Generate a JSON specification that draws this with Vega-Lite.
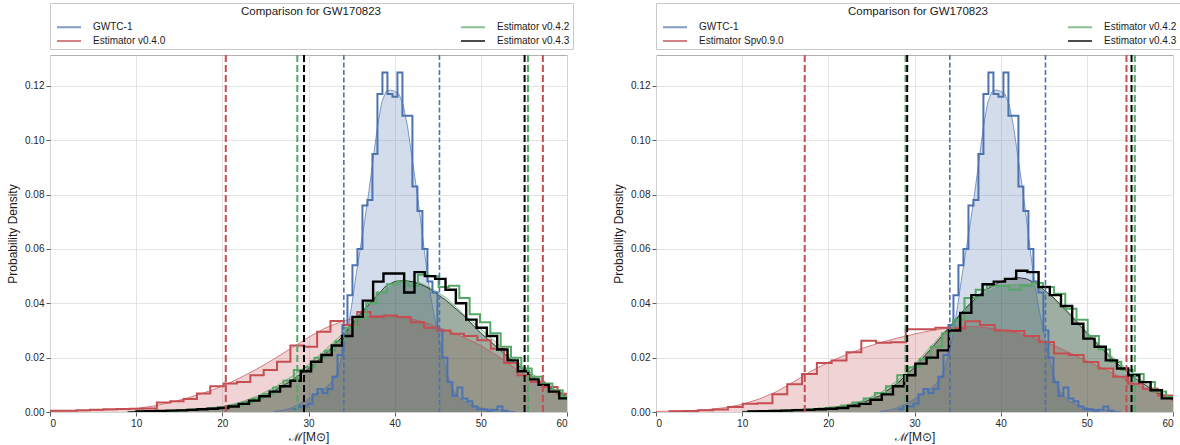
{
"$schema":"https://vega.github.io/schema/vega-lite/v6.json",
"padding":{"left":6,"right":0,"top":2,"bottom":1},
"background":"white",
"datasets":{
"bounds":[
{"p":"all","s":"GWTC-1","x":34.1},{"p":"all","s":"GWTC-1","x":45.2},
{"p":"A","s":"Estimator v0.4.0","x":20.4},{"p":"A","s":"Estimator v0.4.0","x":57.2},
{"p":"A","s":"Estimator v0.4.2","x":28.7},{"p":"A","s":"Estimator v0.4.2","x":55.47},
{"p":"A","s":"Estimator v0.4.3","x":29.48},{"p":"A","s":"Estimator v0.4.3","x":55.08},
{"p":"B","s":"Estimator Spv0.9.0","x":17.26},{"p":"B","s":"Estimator Spv0.9.0","x":54.6},
{"p":"B","s":"Estimator v0.4.2","x":28.96},{"p":"B","s":"Estimator v0.4.2","x":55.57},
{"p":"B","s":"Estimator v0.4.3","x":29.15},{"p":"B","s":"Estimator v0.4.3","x":55.19}
],
"hist":[
{"p":"all","s":"GWTC-1","x":28.14,"y":0.001},{"p":"all","s":"GWTC-1","x":28.72,"y":0.002},{"p":"all","s":"GWTC-1","x":29.3,"y":0.002},{"p":"all","s":"GWTC-1","x":29.88,"y":0.003},{"p":"all","s":"GWTC-1","x":30.46,"y":0.0065},{"p":"all","s":"GWTC-1","x":31.04,"y":0.0085},{"p":"all","s":"GWTC-1","x":31.62,"y":0.007},{"p":"all","s":"GWTC-1","x":32.2,"y":0.0085},{"p":"all","s":"GWTC-1","x":32.78,"y":0.013},{"p":"all","s":"GWTC-1","x":33.36,"y":0.021},{"p":"all","s":"GWTC-1","x":33.94,"y":0.032},{"p":"all","s":"GWTC-1","x":34.52,"y":0.043},{"p":"all","s":"GWTC-1","x":35.1,"y":0.054},{"p":"all","s":"GWTC-1","x":35.68,"y":0.06},{"p":"all","s":"GWTC-1","x":36.26,"y":0.076},{"p":"all","s":"GWTC-1","x":36.84,"y":0.078},{"p":"all","s":"GWTC-1","x":37.42,"y":0.095},{"p":"all","s":"GWTC-1","x":38.0,"y":0.117},{"p":"all","s":"GWTC-1","x":38.58,"y":0.125},{"p":"all","s":"GWTC-1","x":39.16,"y":0.117},{"p":"all","s":"GWTC-1","x":39.74,"y":0.116},{"p":"all","s":"GWTC-1","x":40.32,"y":0.125},{"p":"all","s":"GWTC-1","x":40.9,"y":0.109},{"p":"all","s":"GWTC-1","x":41.48,"y":0.109},{"p":"all","s":"GWTC-1","x":42.06,"y":0.083},{"p":"all","s":"GWTC-1","x":42.64,"y":0.074},{"p":"all","s":"GWTC-1","x":43.22,"y":0.06},{"p":"all","s":"GWTC-1","x":43.8,"y":0.048},{"p":"all","s":"GWTC-1","x":44.38,"y":0.044},{"p":"all","s":"GWTC-1","x":44.96,"y":0.03},{"p":"all","s":"GWTC-1","x":45.54,"y":0.02},{"p":"all","s":"GWTC-1","x":46.12,"y":0.011},{"p":"all","s":"GWTC-1","x":46.7,"y":0.006},{"p":"all","s":"GWTC-1","x":47.28,"y":0.009},{"p":"all","s":"GWTC-1","x":47.86,"y":0.005},{"p":"all","s":"GWTC-1","x":48.44,"y":0.004},{"p":"all","s":"GWTC-1","x":49.02,"y":0.002},{"p":"all","s":"GWTC-1","x":49.6,"y":0.001},{"p":"all","s":"GWTC-1","x":50.18,"y":0.0008},{"p":"all","s":"GWTC-1","x":50.76,"y":0.0005},{"p":"all","s":"GWTC-1","x":51.34,"y":0.0008},{"p":"all","s":"GWTC-1","x":51.92,"y":0.002},{"p":"all","s":"GWTC-1","x":52.5,"y":0.0005},{"p":"all","s":"GWTC-1","x":53.08,"y":0},
{"p":"A","s":"Estimator v0.4.0","x":0,"y":0.0005},{"p":"A","s":"Estimator v0.4.0","x":1.55,"y":0.0005},{"p":"A","s":"Estimator v0.4.0","x":3.1,"y":0.0006},{"p":"A","s":"Estimator v0.4.0","x":4.65,"y":0.0008},{"p":"A","s":"Estimator v0.4.0","x":6.2,"y":0.001},{"p":"A","s":"Estimator v0.4.0","x":7.75,"y":0.0011},{"p":"A","s":"Estimator v0.4.0","x":9.3,"y":0.0012},{"p":"A","s":"Estimator v0.4.0","x":10.85,"y":0.0013},{"p":"A","s":"Estimator v0.4.0","x":12.4,"y":0.0035},{"p":"A","s":"Estimator v0.4.0","x":13.95,"y":0.004},{"p":"A","s":"Estimator v0.4.0","x":15.5,"y":0.0048},{"p":"A","s":"Estimator v0.4.0","x":17.05,"y":0.0068},{"p":"A","s":"Estimator v0.4.0","x":18.6,"y":0.0095},{"p":"A","s":"Estimator v0.4.0","x":20.15,"y":0.0105},{"p":"A","s":"Estimator v0.4.0","x":21.7,"y":0.011},{"p":"A","s":"Estimator v0.4.0","x":23.25,"y":0.0135},{"p":"A","s":"Estimator v0.4.0","x":24.8,"y":0.0155},{"p":"A","s":"Estimator v0.4.0","x":26.35,"y":0.0185},{"p":"A","s":"Estimator v0.4.0","x":27.9,"y":0.0245},{"p":"A","s":"Estimator v0.4.0","x":29.45,"y":0.024},{"p":"A","s":"Estimator v0.4.0","x":31.0,"y":0.0295},{"p":"A","s":"Estimator v0.4.0","x":32.55,"y":0.0335},{"p":"A","s":"Estimator v0.4.0","x":34.1,"y":0.032},{"p":"A","s":"Estimator v0.4.0","x":35.65,"y":0.0368},{"p":"A","s":"Estimator v0.4.0","x":37.2,"y":0.035},{"p":"A","s":"Estimator v0.4.0","x":38.75,"y":0.0355},{"p":"A","s":"Estimator v0.4.0","x":40.3,"y":0.035},{"p":"A","s":"Estimator v0.4.0","x":41.85,"y":0.033},{"p":"A","s":"Estimator v0.4.0","x":43.4,"y":0.031},{"p":"A","s":"Estimator v0.4.0","x":44.95,"y":0.03},{"p":"A","s":"Estimator v0.4.0","x":46.5,"y":0.0288},{"p":"A","s":"Estimator v0.4.0","x":48.05,"y":0.028},{"p":"A","s":"Estimator v0.4.0","x":49.6,"y":0.0264},{"p":"A","s":"Estimator v0.4.0","x":51.15,"y":0.0233},{"p":"A","s":"Estimator v0.4.0","x":52.7,"y":0.018},{"p":"A","s":"Estimator v0.4.0","x":54.25,"y":0.0135},{"p":"A","s":"Estimator v0.4.0","x":55.8,"y":0.011},{"p":"A","s":"Estimator v0.4.0","x":57.35,"y":0.0092},{"p":"A","s":"Estimator v0.4.0","x":58.9,"y":0.0067},{"p":"A","s":"Estimator v0.4.0","x":60,"y":0.0067},
{"p":"A","s":"Estimator v0.4.2","x":10.3,"y":0.0002},{"p":"A","s":"Estimator v0.4.2","x":11.5,"y":0.0003},{"p":"A","s":"Estimator v0.4.2","x":12.7,"y":0.0004},{"p":"A","s":"Estimator v0.4.2","x":13.9,"y":0.0005},{"p":"A","s":"Estimator v0.4.2","x":15.1,"y":0.0007},{"p":"A","s":"Estimator v0.4.2","x":16.3,"y":0.0009},{"p":"A","s":"Estimator v0.4.2","x":17.5,"y":0.0011},{"p":"A","s":"Estimator v0.4.2","x":18.7,"y":0.0014},{"p":"A","s":"Estimator v0.4.2","x":19.9,"y":0.0018},{"p":"A","s":"Estimator v0.4.2","x":21.1,"y":0.0025},{"p":"A","s":"Estimator v0.4.2","x":22.3,"y":0.0035},{"p":"A","s":"Estimator v0.4.2","x":23.5,"y":0.005},{"p":"A","s":"Estimator v0.4.2","x":24.7,"y":0.0065},{"p":"A","s":"Estimator v0.4.2","x":25.9,"y":0.009},{"p":"A","s":"Estimator v0.4.2","x":27.1,"y":0.0115},{"p":"A","s":"Estimator v0.4.2","x":28.3,"y":0.0155},{"p":"A","s":"Estimator v0.4.2","x":29.5,"y":0.0165},{"p":"A","s":"Estimator v0.4.2","x":30.7,"y":0.02},{"p":"A","s":"Estimator v0.4.2","x":31.9,"y":0.0225},{"p":"A","s":"Estimator v0.4.2","x":33.1,"y":0.026},{"p":"A","s":"Estimator v0.4.2","x":34.3,"y":0.031},{"p":"A","s":"Estimator v0.4.2","x":35.5,"y":0.0345},{"p":"A","s":"Estimator v0.4.2","x":36.7,"y":0.04},{"p":"A","s":"Estimator v0.4.2","x":37.9,"y":0.044},{"p":"A","s":"Estimator v0.4.2","x":39.1,"y":0.047},{"p":"A","s":"Estimator v0.4.2","x":40.3,"y":0.048},{"p":"A","s":"Estimator v0.4.2","x":41.5,"y":0.0465},{"p":"A","s":"Estimator v0.4.2","x":42.7,"y":0.0505},{"p":"A","s":"Estimator v0.4.2","x":43.9,"y":0.05},{"p":"A","s":"Estimator v0.4.2","x":45.1,"y":0.046},{"p":"A","s":"Estimator v0.4.2","x":46.3,"y":0.0465},{"p":"A","s":"Estimator v0.4.2","x":47.5,"y":0.042},{"p":"A","s":"Estimator v0.4.2","x":48.7,"y":0.036},{"p":"A","s":"Estimator v0.4.2","x":49.9,"y":0.033},{"p":"A","s":"Estimator v0.4.2","x":51.1,"y":0.029},{"p":"A","s":"Estimator v0.4.2","x":52.3,"y":0.024},{"p":"A","s":"Estimator v0.4.2","x":53.5,"y":0.02},{"p":"A","s":"Estimator v0.4.2","x":54.7,"y":0.016},{"p":"A","s":"Estimator v0.4.2","x":55.9,"y":0.013},{"p":"A","s":"Estimator v0.4.2","x":57.1,"y":0.0105},{"p":"A","s":"Estimator v0.4.2","x":58.3,"y":0.008},{"p":"A","s":"Estimator v0.4.2","x":59.5,"y":0.0055},{"p":"A","s":"Estimator v0.4.2","x":60,"y":0.0055},
{"p":"A","s":"Estimator v0.4.3","x":9.9,"y":0.0002},{"p":"A","s":"Estimator v0.4.3","x":11.1,"y":0.0003},{"p":"A","s":"Estimator v0.4.3","x":12.3,"y":0.0004},{"p":"A","s":"Estimator v0.4.3","x":13.5,"y":0.0005},{"p":"A","s":"Estimator v0.4.3","x":14.7,"y":0.0006},{"p":"A","s":"Estimator v0.4.3","x":15.9,"y":0.0008},{"p":"A","s":"Estimator v0.4.3","x":17.1,"y":0.001},{"p":"A","s":"Estimator v0.4.3","x":18.3,"y":0.0012},{"p":"A","s":"Estimator v0.4.3","x":19.5,"y":0.0015},{"p":"A","s":"Estimator v0.4.3","x":20.7,"y":0.002},{"p":"A","s":"Estimator v0.4.3","x":21.9,"y":0.003},{"p":"A","s":"Estimator v0.4.3","x":23.1,"y":0.0042},{"p":"A","s":"Estimator v0.4.3","x":24.3,"y":0.0058},{"p":"A","s":"Estimator v0.4.3","x":25.5,"y":0.0075},{"p":"A","s":"Estimator v0.4.3","x":26.7,"y":0.0095},{"p":"A","s":"Estimator v0.4.3","x":27.9,"y":0.0115},{"p":"A","s":"Estimator v0.4.3","x":29.1,"y":0.015},{"p":"A","s":"Estimator v0.4.3","x":30.3,"y":0.0185},{"p":"A","s":"Estimator v0.4.3","x":31.5,"y":0.021},{"p":"A","s":"Estimator v0.4.3","x":32.7,"y":0.0245},{"p":"A","s":"Estimator v0.4.3","x":33.9,"y":0.028},{"p":"A","s":"Estimator v0.4.3","x":35.1,"y":0.035},{"p":"A","s":"Estimator v0.4.3","x":36.3,"y":0.041},{"p":"A","s":"Estimator v0.4.3","x":37.5,"y":0.048},{"p":"A","s":"Estimator v0.4.3","x":38.7,"y":0.051},{"p":"A","s":"Estimator v0.4.3","x":39.9,"y":0.051},{"p":"A","s":"Estimator v0.4.3","x":41.1,"y":0.044},{"p":"A","s":"Estimator v0.4.3","x":42.3,"y":0.0515},{"p":"A","s":"Estimator v0.4.3","x":43.5,"y":0.05},{"p":"A","s":"Estimator v0.4.3","x":44.7,"y":0.049},{"p":"A","s":"Estimator v0.4.3","x":45.9,"y":0.045},{"p":"A","s":"Estimator v0.4.3","x":47.1,"y":0.04},{"p":"A","s":"Estimator v0.4.3","x":48.3,"y":0.034},{"p":"A","s":"Estimator v0.4.3","x":49.5,"y":0.031},{"p":"A","s":"Estimator v0.4.3","x":50.7,"y":0.028},{"p":"A","s":"Estimator v0.4.3","x":51.9,"y":0.023},{"p":"A","s":"Estimator v0.4.3","x":53.1,"y":0.019},{"p":"A","s":"Estimator v0.4.3","x":54.3,"y":0.015},{"p":"A","s":"Estimator v0.4.3","x":55.5,"y":0.012},{"p":"A","s":"Estimator v0.4.3","x":56.7,"y":0.01},{"p":"A","s":"Estimator v0.4.3","x":57.9,"y":0.0075},{"p":"A","s":"Estimator v0.4.3","x":59.1,"y":0.005},{"p":"A","s":"Estimator v0.4.3","x":60,"y":0.005},
{"p":"B","s":"Estimator Spv0.9.0","x":1.47,"y":0.0003},{"p":"B","s":"Estimator Spv0.9.0","x":3.19,"y":0.0004},{"p":"B","s":"Estimator Spv0.9.0","x":4.91,"y":0.0006},{"p":"B","s":"Estimator Spv0.9.0","x":6.63,"y":0.0009},{"p":"B","s":"Estimator Spv0.9.0","x":8.35,"y":0.0018},{"p":"B","s":"Estimator Spv0.9.0","x":10.07,"y":0.003},{"p":"B","s":"Estimator Spv0.9.0","x":11.79,"y":0.0032},{"p":"B","s":"Estimator Spv0.9.0","x":13.51,"y":0.0065},{"p":"B","s":"Estimator Spv0.9.0","x":15.23,"y":0.0102},{"p":"B","s":"Estimator Spv0.9.0","x":16.95,"y":0.014},{"p":"B","s":"Estimator Spv0.9.0","x":18.67,"y":0.018},{"p":"B","s":"Estimator Spv0.9.0","x":20.39,"y":0.019},{"p":"B","s":"Estimator Spv0.9.0","x":22.11,"y":0.022},{"p":"B","s":"Estimator Spv0.9.0","x":23.83,"y":0.0262},{"p":"B","s":"Estimator Spv0.9.0","x":25.55,"y":0.0255},{"p":"B","s":"Estimator Spv0.9.0","x":27.27,"y":0.0257},{"p":"B","s":"Estimator Spv0.9.0","x":28.99,"y":0.0305},{"p":"B","s":"Estimator Spv0.9.0","x":30.71,"y":0.0305},{"p":"B","s":"Estimator Spv0.9.0","x":32.43,"y":0.031},{"p":"B","s":"Estimator Spv0.9.0","x":34.15,"y":0.0307},{"p":"B","s":"Estimator Spv0.9.0","x":35.87,"y":0.0334},{"p":"B","s":"Estimator Spv0.9.0","x":37.59,"y":0.032},{"p":"B","s":"Estimator Spv0.9.0","x":39.31,"y":0.03},{"p":"B","s":"Estimator Spv0.9.0","x":41.03,"y":0.0298},{"p":"B","s":"Estimator Spv0.9.0","x":42.75,"y":0.028},{"p":"B","s":"Estimator Spv0.9.0","x":44.47,"y":0.0258},{"p":"B","s":"Estimator Spv0.9.0","x":46.19,"y":0.0215},{"p":"B","s":"Estimator Spv0.9.0","x":47.91,"y":0.021},{"p":"B","s":"Estimator Spv0.9.0","x":49.63,"y":0.0184},{"p":"B","s":"Estimator Spv0.9.0","x":51.35,"y":0.016},{"p":"B","s":"Estimator Spv0.9.0","x":53.07,"y":0.013},{"p":"B","s":"Estimator Spv0.9.0","x":54.79,"y":0.0104},{"p":"B","s":"Estimator Spv0.9.0","x":56.51,"y":0.0086},{"p":"B","s":"Estimator Spv0.9.0","x":58.23,"y":0.0061},{"p":"B","s":"Estimator Spv0.9.0","x":59.95,"y":0.0043},{"p":"B","s":"Estimator Spv0.9.0","x":60,"y":0.0043},
{"p":"B","s":"Estimator v0.4.2","x":11.1,"y":0.0003},{"p":"B","s":"Estimator v0.4.2","x":12.4,"y":0.0004},{"p":"B","s":"Estimator v0.4.2","x":13.7,"y":0.0005},{"p":"B","s":"Estimator v0.4.2","x":15.0,"y":0.0006},{"p":"B","s":"Estimator v0.4.2","x":16.3,"y":0.0008},{"p":"B","s":"Estimator v0.4.2","x":17.6,"y":0.001},{"p":"B","s":"Estimator v0.4.2","x":18.9,"y":0.0013},{"p":"B","s":"Estimator v0.4.2","x":20.2,"y":0.0017},{"p":"B","s":"Estimator v0.4.2","x":21.5,"y":0.0024},{"p":"B","s":"Estimator v0.4.2","x":22.8,"y":0.0035},{"p":"B","s":"Estimator v0.4.2","x":24.1,"y":0.005},{"p":"B","s":"Estimator v0.4.2","x":25.4,"y":0.007},{"p":"B","s":"Estimator v0.4.2","x":26.7,"y":0.0095},{"p":"B","s":"Estimator v0.4.2","x":28.0,"y":0.0135},{"p":"B","s":"Estimator v0.4.2","x":29.3,"y":0.0165},{"p":"B","s":"Estimator v0.4.2","x":30.6,"y":0.0195},{"p":"B","s":"Estimator v0.4.2","x":31.9,"y":0.024},{"p":"B","s":"Estimator v0.4.2","x":33.2,"y":0.029},{"p":"B","s":"Estimator v0.4.2","x":34.5,"y":0.034},{"p":"B","s":"Estimator v0.4.2","x":35.8,"y":0.042},{"p":"B","s":"Estimator v0.4.2","x":37.1,"y":0.045},{"p":"B","s":"Estimator v0.4.2","x":38.4,"y":0.0465},{"p":"B","s":"Estimator v0.4.2","x":39.7,"y":0.0465},{"p":"B","s":"Estimator v0.4.2","x":41.0,"y":0.045},{"p":"B","s":"Estimator v0.4.2","x":42.3,"y":0.0465},{"p":"B","s":"Estimator v0.4.2","x":43.6,"y":0.0475},{"p":"B","s":"Estimator v0.4.2","x":44.9,"y":0.046},{"p":"B","s":"Estimator v0.4.2","x":46.2,"y":0.0435},{"p":"B","s":"Estimator v0.4.2","x":47.5,"y":0.038},{"p":"B","s":"Estimator v0.4.2","x":48.8,"y":0.034},{"p":"B","s":"Estimator v0.4.2","x":50.1,"y":0.028},{"p":"B","s":"Estimator v0.4.2","x":51.4,"y":0.023},{"p":"B","s":"Estimator v0.4.2","x":52.7,"y":0.0185},{"p":"B","s":"Estimator v0.4.2","x":54.0,"y":0.0155},{"p":"B","s":"Estimator v0.4.2","x":55.3,"y":0.014},{"p":"B","s":"Estimator v0.4.2","x":56.6,"y":0.011},{"p":"B","s":"Estimator v0.4.2","x":57.9,"y":0.0075},{"p":"B","s":"Estimator v0.4.2","x":59.2,"y":0.0055},{"p":"B","s":"Estimator v0.4.2","x":60,"y":0.0055},
{"p":"B","s":"Estimator v0.4.3","x":10.6,"y":0.0002},{"p":"B","s":"Estimator v0.4.3","x":11.9,"y":0.0003},{"p":"B","s":"Estimator v0.4.3","x":13.2,"y":0.0004},{"p":"B","s":"Estimator v0.4.3","x":14.5,"y":0.0005},{"p":"B","s":"Estimator v0.4.3","x":15.8,"y":0.0007},{"p":"B","s":"Estimator v0.4.3","x":17.1,"y":0.0008},{"p":"B","s":"Estimator v0.4.3","x":18.4,"y":0.001},{"p":"B","s":"Estimator v0.4.3","x":19.7,"y":0.0012},{"p":"B","s":"Estimator v0.4.3","x":21.0,"y":0.0015},{"p":"B","s":"Estimator v0.4.3","x":22.3,"y":0.0022},{"p":"B","s":"Estimator v0.4.3","x":23.6,"y":0.003},{"p":"B","s":"Estimator v0.4.3","x":24.9,"y":0.0045},{"p":"B","s":"Estimator v0.4.3","x":26.2,"y":0.0065},{"p":"B","s":"Estimator v0.4.3","x":27.5,"y":0.0095},{"p":"B","s":"Estimator v0.4.3","x":28.8,"y":0.0135},{"p":"B","s":"Estimator v0.4.3","x":30.1,"y":0.0178},{"p":"B","s":"Estimator v0.4.3","x":31.4,"y":0.02},{"p":"B","s":"Estimator v0.4.3","x":32.7,"y":0.0227},{"p":"B","s":"Estimator v0.4.3","x":34.0,"y":0.03},{"p":"B","s":"Estimator v0.4.3","x":35.3,"y":0.0365},{"p":"B","s":"Estimator v0.4.3","x":36.6,"y":0.043},{"p":"B","s":"Estimator v0.4.3","x":37.9,"y":0.047},{"p":"B","s":"Estimator v0.4.3","x":39.2,"y":0.048},{"p":"B","s":"Estimator v0.4.3","x":40.5,"y":0.049},{"p":"B","s":"Estimator v0.4.3","x":41.8,"y":0.052},{"p":"B","s":"Estimator v0.4.3","x":43.1,"y":0.0515},{"p":"B","s":"Estimator v0.4.3","x":44.4,"y":0.046},{"p":"B","s":"Estimator v0.4.3","x":45.7,"y":0.043},{"p":"B","s":"Estimator v0.4.3","x":47.0,"y":0.039},{"p":"B","s":"Estimator v0.4.3","x":48.3,"y":0.0325},{"p":"B","s":"Estimator v0.4.3","x":49.6,"y":0.027},{"p":"B","s":"Estimator v0.4.3","x":50.9,"y":0.024},{"p":"B","s":"Estimator v0.4.3","x":52.2,"y":0.019},{"p":"B","s":"Estimator v0.4.3","x":53.5,"y":0.016},{"p":"B","s":"Estimator v0.4.3","x":54.8,"y":0.0135},{"p":"B","s":"Estimator v0.4.3","x":56.1,"y":0.011},{"p":"B","s":"Estimator v0.4.3","x":57.4,"y":0.008},{"p":"B","s":"Estimator v0.4.3","x":58.7,"y":0.005},{"p":"B","s":"Estimator v0.4.3","x":60,"y":0.005}
],
"kde":[
{"p":"all","s":"GWTC-1","x":26,"y":0.0002},{"p":"all","s":"GWTC-1","x":27,"y":0.0006},{"p":"all","s":"GWTC-1","x":28,"y":0.0015},{"p":"all","s":"GWTC-1","x":29,"y":0.003},{"p":"all","s":"GWTC-1","x":30,"y":0.0048},{"p":"all","s":"GWTC-1","x":31,"y":0.0068},{"p":"all","s":"GWTC-1","x":32,"y":0.009},{"p":"all","s":"GWTC-1","x":33,"y":0.012},{"p":"all","s":"GWTC-1","x":33.5,"y":0.016},{"p":"all","s":"GWTC-1","x":34,"y":0.022},{"p":"all","s":"GWTC-1","x":34.5,"y":0.029},{"p":"all","s":"GWTC-1","x":35,"y":0.039},{"p":"all","s":"GWTC-1","x":35.5,"y":0.05},{"p":"all","s":"GWTC-1","x":36,"y":0.06},{"p":"all","s":"GWTC-1","x":36.5,"y":0.07},{"p":"all","s":"GWTC-1","x":37,"y":0.081},{"p":"all","s":"GWTC-1","x":37.5,"y":0.093},{"p":"all","s":"GWTC-1","x":38,"y":0.105},{"p":"all","s":"GWTC-1","x":38.5,"y":0.114},{"p":"all","s":"GWTC-1","x":39,"y":0.118},{"p":"all","s":"GWTC-1","x":39.5,"y":0.1185},{"p":"all","s":"GWTC-1","x":40,"y":0.118},{"p":"all","s":"GWTC-1","x":40.5,"y":0.117},{"p":"all","s":"GWTC-1","x":41,"y":0.113},{"p":"all","s":"GWTC-1","x":41.5,"y":0.105},{"p":"all","s":"GWTC-1","x":42,"y":0.094},{"p":"all","s":"GWTC-1","x":42.5,"y":0.083},{"p":"all","s":"GWTC-1","x":43,"y":0.071},{"p":"all","s":"GWTC-1","x":43.5,"y":0.058},{"p":"all","s":"GWTC-1","x":44,"y":0.046},{"p":"all","s":"GWTC-1","x":44.5,"y":0.037},{"p":"all","s":"GWTC-1","x":45,"y":0.029},{"p":"all","s":"GWTC-1","x":45.5,"y":0.022},{"p":"all","s":"GWTC-1","x":46,"y":0.015},{"p":"all","s":"GWTC-1","x":46.5,"y":0.01},{"p":"all","s":"GWTC-1","x":47,"y":0.007},{"p":"all","s":"GWTC-1","x":47.5,"y":0.0052},{"p":"all","s":"GWTC-1","x":48,"y":0.004},{"p":"all","s":"GWTC-1","x":49,"y":0.0025},{"p":"all","s":"GWTC-1","x":50,"y":0.0015},{"p":"all","s":"GWTC-1","x":51,"y":0.001},{"p":"all","s":"GWTC-1","x":52,"y":0.0008},{"p":"all","s":"GWTC-1","x":53,"y":0.0004},{"p":"all","s":"GWTC-1","x":54,"y":0.0001},
{"p":"A","s":"Estimator v0.4.0","x":0,"y":0.0003},{"p":"A","s":"Estimator v0.4.0","x":4,"y":0.0005},{"p":"A","s":"Estimator v0.4.0","x":8,"y":0.0009},{"p":"A","s":"Estimator v0.4.0","x":10,"y":0.0013},{"p":"A","s":"Estimator v0.4.0","x":12,"y":0.0022},{"p":"A","s":"Estimator v0.4.0","x":14,"y":0.0035},{"p":"A","s":"Estimator v0.4.0","x":16,"y":0.0052},{"p":"A","s":"Estimator v0.4.0","x":18,"y":0.0072},{"p":"A","s":"Estimator v0.4.0","x":20,"y":0.0095},{"p":"A","s":"Estimator v0.4.0","x":22,"y":0.0125},{"p":"A","s":"Estimator v0.4.0","x":24,"y":0.0158},{"p":"A","s":"Estimator v0.4.0","x":26,"y":0.0195},{"p":"A","s":"Estimator v0.4.0","x":28,"y":0.0235},{"p":"A","s":"Estimator v0.4.0","x":30,"y":0.0275},{"p":"A","s":"Estimator v0.4.0","x":32,"y":0.031},{"p":"A","s":"Estimator v0.4.0","x":34,"y":0.0335},{"p":"A","s":"Estimator v0.4.0","x":36,"y":0.035},{"p":"A","s":"Estimator v0.4.0","x":38,"y":0.0355},{"p":"A","s":"Estimator v0.4.0","x":40,"y":0.0353},{"p":"A","s":"Estimator v0.4.0","x":42,"y":0.0343},{"p":"A","s":"Estimator v0.4.0","x":44,"y":0.0325},{"p":"A","s":"Estimator v0.4.0","x":46,"y":0.03},{"p":"A","s":"Estimator v0.4.0","x":48,"y":0.0275},{"p":"A","s":"Estimator v0.4.0","x":50,"y":0.0245},{"p":"A","s":"Estimator v0.4.0","x":52,"y":0.0205},{"p":"A","s":"Estimator v0.4.0","x":54,"y":0.016},{"p":"A","s":"Estimator v0.4.0","x":56,"y":0.012},{"p":"A","s":"Estimator v0.4.0","x":58,"y":0.0088},{"p":"A","s":"Estimator v0.4.0","x":60,"y":0.0062},
{"p":"A","s":"Estimator v0.4.2","x":9,"y":0.0001},{"p":"A","s":"Estimator v0.4.2","x":10,"y":0.0003},{"p":"A","s":"Estimator v0.4.2","x":14,"y":0.0006},{"p":"A","s":"Estimator v0.4.2","x":18,"y":0.0014},{"p":"A","s":"Estimator v0.4.2","x":20,"y":0.002},{"p":"A","s":"Estimator v0.4.2","x":22,"y":0.0035},{"p":"A","s":"Estimator v0.4.2","x":24,"y":0.0058},{"p":"A","s":"Estimator v0.4.2","x":26,"y":0.009},{"p":"A","s":"Estimator v0.4.2","x":28,"y":0.013},{"p":"A","s":"Estimator v0.4.2","x":30,"y":0.0175},{"p":"A","s":"Estimator v0.4.2","x":32,"y":0.023},{"p":"A","s":"Estimator v0.4.2","x":34,"y":0.029},{"p":"A","s":"Estimator v0.4.2","x":36,"y":0.0365},{"p":"A","s":"Estimator v0.4.2","x":38,"y":0.043},{"p":"A","s":"Estimator v0.4.2","x":40,"y":0.047},{"p":"A","s":"Estimator v0.4.2","x":41,"y":0.048},{"p":"A","s":"Estimator v0.4.2","x":42,"y":0.048},{"p":"A","s":"Estimator v0.4.2","x":43,"y":0.0475},{"p":"A","s":"Estimator v0.4.2","x":44,"y":0.046},{"p":"A","s":"Estimator v0.4.2","x":46,"y":0.042},{"p":"A","s":"Estimator v0.4.2","x":48,"y":0.036},{"p":"A","s":"Estimator v0.4.2","x":50,"y":0.0305},{"p":"A","s":"Estimator v0.4.2","x":52,"y":0.025},{"p":"A","s":"Estimator v0.4.2","x":54,"y":0.019},{"p":"A","s":"Estimator v0.4.2","x":56,"y":0.014},{"p":"A","s":"Estimator v0.4.2","x":58,"y":0.0095},{"p":"A","s":"Estimator v0.4.2","x":60,"y":0.006},
{"p":"A","s":"Estimator v0.4.3","x":9,"y":0.0001},{"p":"A","s":"Estimator v0.4.3","x":10,"y":0.0002},{"p":"A","s":"Estimator v0.4.3","x":14,"y":0.0005},{"p":"A","s":"Estimator v0.4.3","x":18,"y":0.0012},{"p":"A","s":"Estimator v0.4.3","x":20,"y":0.0018},{"p":"A","s":"Estimator v0.4.3","x":22,"y":0.003},{"p":"A","s":"Estimator v0.4.3","x":24,"y":0.005},{"p":"A","s":"Estimator v0.4.3","x":26,"y":0.0078},{"p":"A","s":"Estimator v0.4.3","x":28,"y":0.0115},{"p":"A","s":"Estimator v0.4.3","x":30,"y":0.016},{"p":"A","s":"Estimator v0.4.3","x":32,"y":0.0215},{"p":"A","s":"Estimator v0.4.3","x":34,"y":0.028},{"p":"A","s":"Estimator v0.4.3","x":36,"y":0.036},{"p":"A","s":"Estimator v0.4.3","x":38,"y":0.043},{"p":"A","s":"Estimator v0.4.3","x":39,"y":0.0465},{"p":"A","s":"Estimator v0.4.3","x":40,"y":0.048},{"p":"A","s":"Estimator v0.4.3","x":41,"y":0.0485},{"p":"A","s":"Estimator v0.4.3","x":42,"y":0.048},{"p":"A","s":"Estimator v0.4.3","x":43,"y":0.047},{"p":"A","s":"Estimator v0.4.3","x":44,"y":0.0455},{"p":"A","s":"Estimator v0.4.3","x":46,"y":0.041},{"p":"A","s":"Estimator v0.4.3","x":48,"y":0.0355},{"p":"A","s":"Estimator v0.4.3","x":50,"y":0.029},{"p":"A","s":"Estimator v0.4.3","x":52,"y":0.0235},{"p":"A","s":"Estimator v0.4.3","x":54,"y":0.018},{"p":"A","s":"Estimator v0.4.3","x":56,"y":0.013},{"p":"A","s":"Estimator v0.4.3","x":58,"y":0.009},{"p":"A","s":"Estimator v0.4.3","x":60,"y":0.0055},
{"p":"B","s":"Estimator Spv0.9.0","x":0,"y":0.0002},{"p":"B","s":"Estimator Spv0.9.0","x":4,"y":0.0005},{"p":"B","s":"Estimator Spv0.9.0","x":6,"y":0.0009},{"p":"B","s":"Estimator Spv0.9.0","x":8,"y":0.0016},{"p":"B","s":"Estimator Spv0.9.0","x":10,"y":0.0028},{"p":"B","s":"Estimator Spv0.9.0","x":12,"y":0.0048},{"p":"B","s":"Estimator Spv0.9.0","x":14,"y":0.0075},{"p":"B","s":"Estimator Spv0.9.0","x":16,"y":0.0112},{"p":"B","s":"Estimator Spv0.9.0","x":18,"y":0.015},{"p":"B","s":"Estimator Spv0.9.0","x":20,"y":0.0183},{"p":"B","s":"Estimator Spv0.9.0","x":22,"y":0.021},{"p":"B","s":"Estimator Spv0.9.0","x":24,"y":0.0235},{"p":"B","s":"Estimator Spv0.9.0","x":26,"y":0.0255},{"p":"B","s":"Estimator Spv0.9.0","x":28,"y":0.0272},{"p":"B","s":"Estimator Spv0.9.0","x":30,"y":0.0287},{"p":"B","s":"Estimator Spv0.9.0","x":32,"y":0.03},{"p":"B","s":"Estimator Spv0.9.0","x":34,"y":0.031},{"p":"B","s":"Estimator Spv0.9.0","x":36,"y":0.0315},{"p":"B","s":"Estimator Spv0.9.0","x":38,"y":0.0312},{"p":"B","s":"Estimator Spv0.9.0","x":40,"y":0.0303},{"p":"B","s":"Estimator Spv0.9.0","x":42,"y":0.029},{"p":"B","s":"Estimator Spv0.9.0","x":44,"y":0.0272},{"p":"B","s":"Estimator Spv0.9.0","x":46,"y":0.0248},{"p":"B","s":"Estimator Spv0.9.0","x":48,"y":0.0218},{"p":"B","s":"Estimator Spv0.9.0","x":50,"y":0.0188},{"p":"B","s":"Estimator Spv0.9.0","x":52,"y":0.0158},{"p":"B","s":"Estimator Spv0.9.0","x":54,"y":0.0127},{"p":"B","s":"Estimator Spv0.9.0","x":56,"y":0.0097},{"p":"B","s":"Estimator Spv0.9.0","x":58,"y":0.0069},{"p":"B","s":"Estimator Spv0.9.0","x":60,"y":0.0046},
{"p":"B","s":"Estimator v0.4.2","x":10,"y":0.0002},{"p":"B","s":"Estimator v0.4.2","x":14,"y":0.0005},{"p":"B","s":"Estimator v0.4.2","x":18,"y":0.001},{"p":"B","s":"Estimator v0.4.2","x":20,"y":0.0015},{"p":"B","s":"Estimator v0.4.2","x":22,"y":0.0025},{"p":"B","s":"Estimator v0.4.2","x":24,"y":0.0042},{"p":"B","s":"Estimator v0.4.2","x":26,"y":0.007},{"p":"B","s":"Estimator v0.4.2","x":28,"y":0.0115},{"p":"B","s":"Estimator v0.4.2","x":30,"y":0.0175},{"p":"B","s":"Estimator v0.4.2","x":32,"y":0.0245},{"p":"B","s":"Estimator v0.4.2","x":34,"y":0.0315},{"p":"B","s":"Estimator v0.4.2","x":36,"y":0.0385},{"p":"B","s":"Estimator v0.4.2","x":38,"y":0.0435},{"p":"B","s":"Estimator v0.4.2","x":40,"y":0.0465},{"p":"B","s":"Estimator v0.4.2","x":42,"y":0.047},{"p":"B","s":"Estimator v0.4.2","x":43,"y":0.047},{"p":"B","s":"Estimator v0.4.2","x":44,"y":0.0465},{"p":"B","s":"Estimator v0.4.2","x":46,"y":0.0425},{"p":"B","s":"Estimator v0.4.2","x":48,"y":0.0365},{"p":"B","s":"Estimator v0.4.2","x":50,"y":0.0295},{"p":"B","s":"Estimator v0.4.2","x":52,"y":0.023},{"p":"B","s":"Estimator v0.4.2","x":54,"y":0.0175},{"p":"B","s":"Estimator v0.4.2","x":56,"y":0.0125},{"p":"B","s":"Estimator v0.4.2","x":58,"y":0.008},{"p":"B","s":"Estimator v0.4.2","x":60,"y":0.005},
{"p":"B","s":"Estimator v0.4.3","x":10,"y":0.0002},{"p":"B","s":"Estimator v0.4.3","x":14,"y":0.0005},{"p":"B","s":"Estimator v0.4.3","x":18,"y":0.0009},{"p":"B","s":"Estimator v0.4.3","x":20,"y":0.0013},{"p":"B","s":"Estimator v0.4.3","x":22,"y":0.002},{"p":"B","s":"Estimator v0.4.3","x":24,"y":0.0035},{"p":"B","s":"Estimator v0.4.3","x":26,"y":0.006},{"p":"B","s":"Estimator v0.4.3","x":28,"y":0.0105},{"p":"B","s":"Estimator v0.4.3","x":30,"y":0.0165},{"p":"B","s":"Estimator v0.4.3","x":32,"y":0.0235},{"p":"B","s":"Estimator v0.4.3","x":34,"y":0.031},{"p":"B","s":"Estimator v0.4.3","x":36,"y":0.0385},{"p":"B","s":"Estimator v0.4.3","x":38,"y":0.0445},{"p":"B","s":"Estimator v0.4.3","x":40,"y":0.048},{"p":"B","s":"Estimator v0.4.3","x":41,"y":0.049},{"p":"B","s":"Estimator v0.4.3","x":42,"y":0.0495},{"p":"B","s":"Estimator v0.4.3","x":43,"y":0.049},{"p":"B","s":"Estimator v0.4.3","x":44,"y":0.0475},{"p":"B","s":"Estimator v0.4.3","x":46,"y":0.0425},{"p":"B","s":"Estimator v0.4.3","x":48,"y":0.036},{"p":"B","s":"Estimator v0.4.3","x":50,"y":0.029},{"p":"B","s":"Estimator v0.4.3","x":52,"y":0.0225},{"p":"B","s":"Estimator v0.4.3","x":54,"y":0.0165},{"p":"B","s":"Estimator v0.4.3","x":56,"y":0.0115},{"p":"B","s":"Estimator v0.4.3","x":58,"y":0.0075},{"p":"B","s":"Estimator v0.4.3","x":60,"y":0.0045}
]
},
"hconcat":[
{
"width":517,"height":357,
"layer":[
{"data":{"name":"kde"},"transform":[{"filter":"datum.p=='A'||datum.p=='all'"}],
 "mark":{"type":"area","fillOpacity":0.25,"clip":true},
 "encoding":{
  "x":{"field":"x","type":"quantitative","scale":{"domain":[0,60],"nice":false},"axis":{"values":[0,10,20,30,40,50,60],"title":"ℳ[M⊙]"}},
  "y":{"field":"y","type":"quantitative","stack":null,"scale":{"domain":[0,0.1314],"nice":false},"axis":{"values":[0,0.02,0.04,0.06,0.08,0.1,0.12],"format":".2f","title":"Probability Density"}},
  "color":{"field":"s","type":"nominal","scale":{"domain":["GWTC-1","Estimator v0.4.2","Estimator v0.4.0","Estimator v0.4.3"],"range":["#4C72B0","#55A868","#C44E52","#000000"]},
   "legend":{"title":"Comparison for GW170823","orient":"top","columns":2,"columnPadding":291,"symbolType":"M-0.6,0H2.6","symbolSize":225,"symbolStrokeWidth":2,"symbolOpacity":1,"symbolFillColor":"transparent","labelFontSize":10,"labelOffset":23,"titleFontSize":11.5,"titleFontWeight":"normal","titleAnchor":"middle","titlePadding":1,"padding":3,"strokeColor":"#c8c8c8","rowPadding":0,"offset":6}}}},
{"data":{"name":"kde"},"transform":[{"filter":"datum.p=='A'||datum.p=='all'"}],
 "mark":{"type":"line","strokeWidth":1,"opacity":0.7,"clip":true},
 "encoding":{
  "x":{"field":"x","type":"quantitative"},
  "y":{"field":"y","type":"quantitative"},
  "color":{"field":"s","type":"nominal"}}},
{"data":{"name":"hist"},"transform":[{"filter":"datum.p=='A'||datum.p=='all'"}],
 "mark":{"type":"line","interpolate":"step-after","clip":true},
 "encoding":{
  "x":{"field":"x","type":"quantitative"},
  "y":{"field":"y","type":"quantitative"},
  "color":{"field":"s","type":"nominal"},
  "strokeWidth":{"condition":{"test":"datum.s=='Estimator v0.4.3'","value":2.4},"value":2}}},
{"data":{"name":"bounds"},"transform":[{"filter":"datum.p=='A'||datum.p=='all'"}],
 "mark":{"type":"rule"},
 "encoding":{
  "x":{"field":"x","type":"quantitative"},
  "color":{"field":"s","type":"nominal"},
  "strokeWidth":{"condition":{"test":"datum.s=='GWTC-1'","value":1.6},"value":2},
  "strokeDash":{"condition":{"test":"datum.s=='GWTC-1'","value":[5,2.5]},"value":[7,3]}}}
]
},
{
"width":517,"height":357,
"layer":[
{"data":{"name":"kde"},"transform":[{"filter":"datum.p=='B'||datum.p=='all'"}],
 "mark":{"type":"area","fillOpacity":0.25,"clip":true},
 "encoding":{
  "x":{"field":"x","type":"quantitative","scale":{"domain":[0,60],"nice":false},"axis":{"values":[0,10,20,30,40,50,60],"title":"ℳ[M⊙]"}},
  "y":{"field":"y","type":"quantitative","stack":null,"scale":{"domain":[0,0.1314],"nice":false},"axis":{"values":[0,0.02,0.04,0.06,0.08,0.1,0.12],"format":".2f","title":"Probability Density"}},
  "color":{"field":"s","type":"nominal","scale":{"domain":["GWTC-1","Estimator v0.4.2","Estimator Spv0.9.0","Estimator v0.4.3"],"range":["#4C72B0","#55A868","#C44E52","#000000"]},
   "legend":{"title":"Comparison for GW170823","orient":"top","columns":2,"columnPadding":280,"symbolType":"M-0.6,0H2.6","symbolSize":225,"symbolStrokeWidth":2,"symbolOpacity":1,"symbolFillColor":"transparent","labelFontSize":10,"labelOffset":23,"titleFontSize":11.5,"titleFontWeight":"normal","titleAnchor":"middle","titlePadding":1,"padding":3,"strokeColor":"#c8c8c8","rowPadding":0,"offset":6}}}},
{"data":{"name":"kde"},"transform":[{"filter":"datum.p=='B'||datum.p=='all'"}],
 "mark":{"type":"line","strokeWidth":1,"opacity":0.7,"clip":true},
 "encoding":{
  "x":{"field":"x","type":"quantitative"},
  "y":{"field":"y","type":"quantitative"},
  "color":{"field":"s","type":"nominal"}}},
{"data":{"name":"hist"},"transform":[{"filter":"datum.p=='B'||datum.p=='all'"}],
 "mark":{"type":"line","interpolate":"step-after","clip":true},
 "encoding":{
  "x":{"field":"x","type":"quantitative"},
  "y":{"field":"y","type":"quantitative"},
  "color":{"field":"s","type":"nominal"},
  "strokeWidth":{"condition":{"test":"datum.s=='Estimator v0.4.3'","value":2.4},"value":2}}},
{"data":{"name":"bounds"},"transform":[{"filter":"datum.p=='B'||datum.p=='all'"}],
 "mark":{"type":"rule"},
 "encoding":{
  "x":{"field":"x","type":"quantitative"},
  "color":{"field":"s","type":"nominal"},
  "strokeWidth":{"condition":{"test":"datum.s=='GWTC-1'","value":1.6},"value":2},
  "strokeDash":{"condition":{"test":"datum.s=='GWTC-1'","value":[5,2.5]},"value":[7,3]}}}
]
}
],
"spacing":38,
"resolve":{"scale":{"color":"independent","x":"independent","y":"independent"},"legend":{"color":"independent"}},
"config":{
 "font":"Liberation Sans",
 "view":{"stroke":"#b0b0b0","strokeWidth":1},
 "axis":{"domain":false,"gridColor":"#dddddd","gridWidth":0.8,"tickColor":"#333333","tickSize":4,"tickWidth":0.8,"labelFontSize":10,"labelColor":"#262626","labelPadding":2,"titleFontSize":12,"titleFontWeight":"normal","titleColor":"#1a1a1a"},
 "axisY":{"titlePadding":5},
 "axisX":{"titlePadding":3},
 "legend":{"labelColor":"#1a1a1a","titleColor":"#1a1a1a","labelFont":"Liberation Sans","titleFont":"Liberation Sans"}
}
}
